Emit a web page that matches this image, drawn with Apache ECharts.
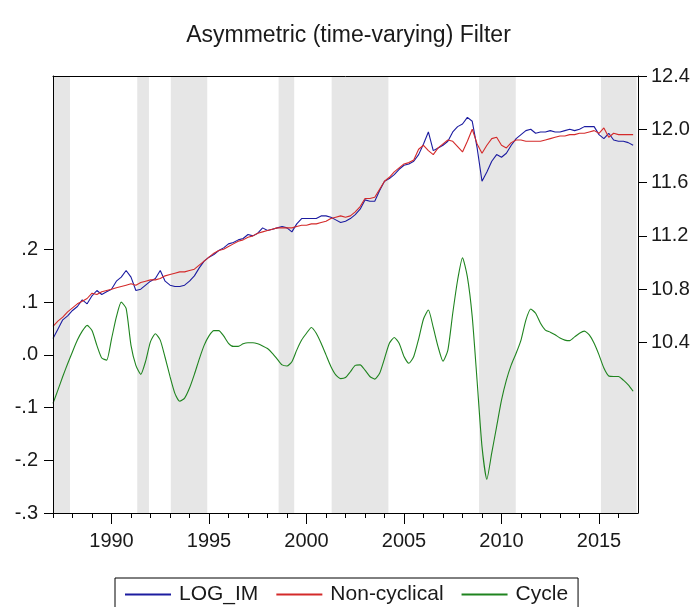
<!DOCTYPE html>
<html>
<head>
<meta charset="utf-8">
<script src="https://cdn.jsdelivr.net/npm/echarts@6.0.0/dist/echarts.min.js"></script>
<style>
  html, body { margin: 0; padding: 0; background: #fff; }
  #main { width: 697px; height: 607px; }
</style>
</head>
<body>
<div id="main"></div>
<script>
// quarterly data, 1987Q1 .. 2016Q4
const startYear = 1987
const logIm = [
  10.43, 10.50, 10.57, 10.60, 10.64, 10.67, 10.72, 10.69, 10.75, 10.79, 10.76, 10.78,
  10.80, 10.86, 10.89, 10.94, 10.89, 10.79, 10.80, 10.83, 10.86, 10.88, 10.94, 10.86,
  10.83, 10.82, 10.82, 10.83, 10.86, 10.90, 10.96, 11.01, 11.04, 11.06, 11.09, 11.11,
  11.14, 11.15, 11.17, 11.18, 11.21, 11.20, 11.22, 11.26, 11.24, 11.25, 11.26, 11.27,
  11.26, 11.23, 11.29, 11.33, 11.33, 11.33, 11.33, 11.35, 11.35, 11.34, 11.32, 11.30,
  11.31, 11.33, 11.36, 11.40, 11.47, 11.46, 11.46, 11.54, 11.61, 11.63, 11.66, 11.70,
  11.73, 11.74, 11.76, 11.81, 11.89, 11.98, 11.84, 11.86, 11.88, 11.91, 11.98, 12.02,
  12.04, 12.09, 12.06, 11.86, 11.61, 11.68, 11.76, 11.81, 11.79, 11.82, 11.88, 11.93,
  11.96, 11.99, 12.00, 11.97, 11.98, 11.98, 11.99, 11.98, 11.98, 11.99, 12.00, 11.99,
  12.00, 12.02, 12.02, 12.02, 11.96, 11.93, 11.97, 11.92, 11.91, 11.91, 11.90, 11.88
]
const nonCyclical = [
  10.52, 10.56, 10.59, 10.63, 10.66, 10.69, 10.71, 10.73, 10.77, 10.76, 10.78, 10.79,
  10.80, 10.81, 10.82, 10.83, 10.84, 10.83, 10.85, 10.86, 10.87, 10.87, 10.88, 10.90,
  10.91, 10.92, 10.93, 10.93, 10.94, 10.95, 10.98, 11.01, 11.04, 11.07, 11.09, 11.10,
  11.12, 11.14, 11.16, 11.17, 11.19, 11.20, 11.22, 11.23, 11.24, 11.25, 11.26, 11.26,
  11.26, 11.26, 11.27, 11.28, 11.28, 11.29, 11.29, 11.30, 11.31, 11.33, 11.34, 11.35,
  11.34, 11.35, 11.38, 11.42, 11.48, 11.48, 11.49, 11.55, 11.61, 11.64, 11.68, 11.71,
  11.74, 11.75, 11.77, 11.85, 11.88, 11.84, 11.81, 11.86, 11.89, 11.92, 11.91, 11.87,
  11.83, 11.91, 12.00, 11.89, 11.82, 11.88, 11.93, 11.94, 11.88, 11.86, 11.90, 11.92,
  11.92, 11.91, 11.91, 11.91, 11.91, 11.92, 11.93, 11.94, 11.95, 11.95, 11.96, 11.96,
  11.97, 11.97, 11.98, 11.99, 11.97, 12.01, 11.94, 11.97, 11.96, 11.96, 11.96, 11.96
]
const cycle = [
  -0.092, -0.067, -0.041, -0.017, 0.006, 0.028, 0.045, 0.056, 0.046, 0.018, -0.006, -0.010,
  0.030, 0.072, 0.100, 0.088, 0.018, -0.020, -0.037, -0.012, 0.025, 0.040, 0.028, -0.005,
  -0.041, -0.073, -0.088, -0.082, -0.063, -0.037, -0.008, 0.018, 0.036, 0.046, 0.046, 0.036,
  0.022, 0.016, 0.016, 0.021, 0.023, 0.023, 0.021, 0.017, 0.012, 0.003, -0.008, -0.019,
  -0.021, -0.013, 0.009, 0.028, 0.041, 0.052, 0.041, 0.022, 0.000, -0.022, -0.038, -0.045,
  -0.043, -0.032, -0.020, -0.019, -0.029, -0.041, -0.046, -0.035, -0.007, 0.022, 0.033, 0.022,
  -0.003, -0.016, -0.003, 0.030, 0.068, 0.085, 0.052, 0.015, -0.012, 0.009, 0.079, 0.142,
  0.184, 0.148, 0.072, -0.050, -0.174, -0.236, -0.186, -0.136, -0.086, -0.048, -0.019, 0.003,
  0.028, 0.066, 0.087, 0.079, 0.060, 0.047, 0.043, 0.038, 0.032, 0.028, 0.027, 0.034,
  0.041, 0.045, 0.038, 0.022, 0.000, -0.025, -0.040, -0.041, -0.041, -0.048, -0.057, -0.069
]

// shaded periods
const bandStart = [1987.0, 1991.32, 1993.04, 1998.57, 2001.29, 2008.85, 2015.1]
const bandEnd = [1987.87, 1991.92, 1994.91, 1999.37, 2004.2, 2010.73, 2016.93]

// ticks
const yearLabels = [1990, 1995, 2000, 2005, 2010, 2015]
const leftTicks = [-0.3, -0.2, -0.1, 0.0, 0.1, 0.2]
const rightTicks = [10.4, 10.8, 11.2, 11.6, 12.0, 12.4]

const FONT = '"Liberation Sans", Arial, sans-serif'
const TXT = '#1a1a1a'

function toPairs(arr) {
  return arr.map((v, i) => [startYear + i * 0.25, v])
}

const chart = echarts.init(document.getElementById('main'))

chart.setOption({
  animation: false,
  backgroundColor: '#fff',
  title: {
    text: 'Asymmetric (time-varying) Filter',
    left: 'center',
    top: 19,
    textStyle: { fontFamily: FONT, fontSize: 23, fontWeight: 'normal', color: TXT }
  },
  legend: {
    left: 115,
    top: 578,
    padding: [6, 10, 8, 10],
    borderColor: '#000',
    borderWidth: 1,
    backgroundColor: '#fff',
    itemGap: 18,
    itemWidth: 46,
    itemHeight: 2,
    icon: 'rect',
    textStyle: { fontFamily: FONT, fontSize: 21, color: TXT, padding: [0, 0, 0, 3] },
    data: ['LOG_IM', 'Non-cyclical', 'Cycle']
  },
  grid: { left: 53, right: 59, top: 76, bottom: 94 },
  xAxis: [
    {
      type: 'value', min: 1987, max: 2017, interval: 1, position: 'bottom', z: 5,
      axisLine: { onZero: false, lineStyle: { color: '#000', width: 1 } },
      axisTick: { show: true, length: 5, lineStyle: { color: '#000' } },
      axisLabel: {
        margin: 18, color: TXT, fontFamily: FONT, fontSize: 20, showMaxLabel: false,
        formatter: v => (yearLabels.indexOf(Math.round(v)) >= 0 ? String(Math.round(v)) : '')
      },
      splitLine: { show: false }
    },
    // longer ticks at labelled years
    {
      type: 'value', min: 1987, max: 2017, interval: 1, position: 'bottom', z: 6,
      axisLine: { show: false, onZero: false },
      axisTick: { show: true, length: 11, customValues: yearLabels, lineStyle: { color: '#000' } },
      axisLabel: { show: false },
      splitLine: { show: false }
    },
    // top frame line
    {
      type: 'value', min: 1987, max: 2017, position: 'top', z: 5,
      axisLine: { onZero: false, lineStyle: { color: '#000', width: 1 } },
      axisTick: { show: false },
      axisLabel: { show: false },
      splitLine: { show: false }
    }
  ],
  yAxis: [
    {
      type: 'value', min: -0.3, max: 0.529, position: 'left', z: 5,
      axisLine: { show: true, onZero: false, lineStyle: { color: '#000', width: 1 } },
      axisTick: { show: true, customValues: leftTicks, length: 9, lineStyle: { color: '#000' } },
      axisLabel: {
        customValues: leftTicks, margin: 15, color: TXT, fontFamily: FONT, fontSize: 20,
        formatter: v => v.toFixed(1).replace('0.', '.')
      },
      splitLine: { show: false }
    },
    {
      type: 'value', min: 9.12, max: 12.4, position: 'right', z: 5,
      axisLine: { show: true, onZero: false, lineStyle: { color: '#000', width: 1 } },
      axisTick: { show: true, customValues: rightTicks, length: 9, lineStyle: { color: '#000' } },
      axisLabel: {
        customValues: rightTicks, margin: 13, color: TXT, fontFamily: FONT, fontSize: 20,
        formatter: v => v.toFixed(1)
      },
      splitLine: { show: false }
    }
  ],
  series: [
    {
      name: 'bands',
      type: 'line',
      data: [],
      z: 0,
      silent: true,
      markArea: {
        silent: true,
        itemStyle: { color: '#e6e6e6' },
        data: bandStart.map((s, i) => [{ xAxis: s }, { xAxis: bandEnd[i] }])
      }
    },
    {
      name: 'LOG_IM',
      type: 'line',
      yAxisIndex: 1,
      symbol: 'none',
      z: 3,
      color: '#1c1ca0',
      lineStyle: { width: 1.1, color: '#1c1ca0' },
      data: toPairs(logIm)
    },
    {
      name: 'Non-cyclical',
      type: 'line',
      yAxisIndex: 1,
      symbol: 'none',
      z: 3,
      color: '#d42a2a',
      lineStyle: { width: 1.1, color: '#d42a2a' },
      data: toPairs(nonCyclical)
    },
    {
      name: 'Cycle',
      type: 'line',
      yAxisIndex: 0,
      symbol: 'none',
      smooth: 0.2,
      z: 3,
      color: '#1f841f',
      lineStyle: { width: 1.1, color: '#1f841f' },
      data: toPairs(cycle)
    }
  ]
})
</script>
</body>
</html>
